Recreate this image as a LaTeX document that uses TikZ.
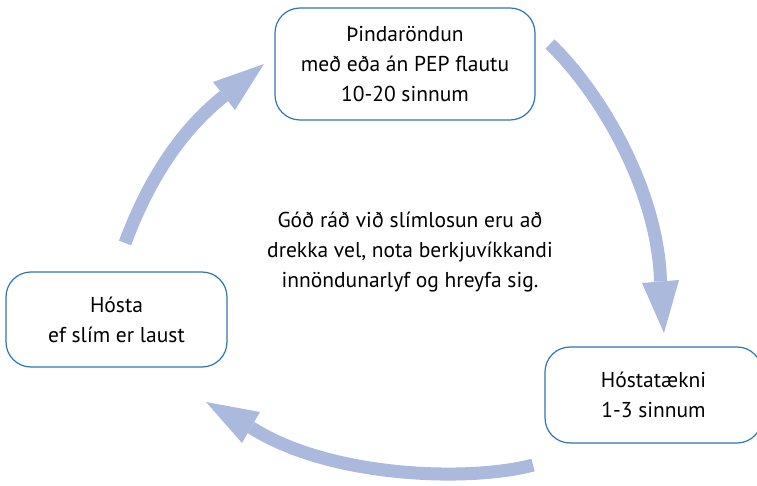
\documentclass[tikz,border=0pt]{standalone}
\usepackage{fontspec}
\setmainfont{PT Sans}
\usetikzlibrary{calc}
\definecolor{arrowblue}{RGB}{171,185,220}
\definecolor{boxblue}{RGB}{46,117,182}
\begin{document}
\begin{tikzpicture}[x=1pt,y=-1pt,
  stepbox/.style={draw=boxblue,line width=1.2pt,fill=white,rounded corners=25pt,
    align=center,inner sep=0pt,font=\fontsize{21.5}{30}\selectfont},
  shaft/.style={draw=arrowblue,line width=13pt},
  headtri/.style={fill=arrowblue,draw=none}]
\useasboundingbox (0,0) rectangle (757,486);
\clip (0,0) rectangle (757,486);
% boxes
\node[stepbox,minimum width=260pt,minimum height=112pt] (top) at (405,64)
  {Þindaröndun\\með eða án PEP flautu\\10-20 sinnum};
\node[stepbox,minimum width=221pt,minimum height=95pt] (left) at (116.5,319.5)
  {Hósta\\ef slím er laust};
\node[stepbox,minimum width=217pt,minimum height=96pt] (right) at (653.5,395)
  {Hóstatækni\\1-3 sinnum};
\node[align=center,font=\fontsize{21.5}{30}\selectfont] (tips) at (410,252)
  {Góð ráð við slímlosun eru að\\drekka vel, nota berkjuvíkkandi\\innöndunarlyf og hreyfa sig.};
% arrow 1: top -> right
\coordinate (a1s) at (550,44);
\coordinate (a1b) at (660.5,281.5);
\coordinate (a1l) at (642,283);
\coordinate (a1r) at (679,280);
\coordinate (a1t) at (664,333);
\draw[shaft] (a1s) .. controls (600,92) and (658,190) .. (a1b);
\fill[headtri] (a1l) -- (a1r) -- (a1t) -- cycle;
% arrow 2: right -> left
\coordinate (a2s) at (533,465);
\coordinate (a2b) at (251,427.5);
\coordinate (a2l) at (260,412);
\coordinate (a2r) at (242,443);
\coordinate (a2t) at (206,402);
\draw[shaft] (a2s) .. controls (470,482) and (330,478) .. (a2b);
\fill[headtri] (a2l) -- (a2r) -- (a2t) -- cycle;
% arrow 3: left -> top
\coordinate (a3s) at (125,243);
\coordinate (a3b) at (224,96);
\coordinate (a3l) at (213,82);
\coordinate (a3r) at (235,110);
\coordinate (a3t) at (264,64);
\draw[shaft] (a3s) .. controls (145,190) and (174,136) .. (a3b);
\fill[headtri] (a3l) -- (a3r) -- (a3t) -- cycle;
\end{tikzpicture}
\end{document}
